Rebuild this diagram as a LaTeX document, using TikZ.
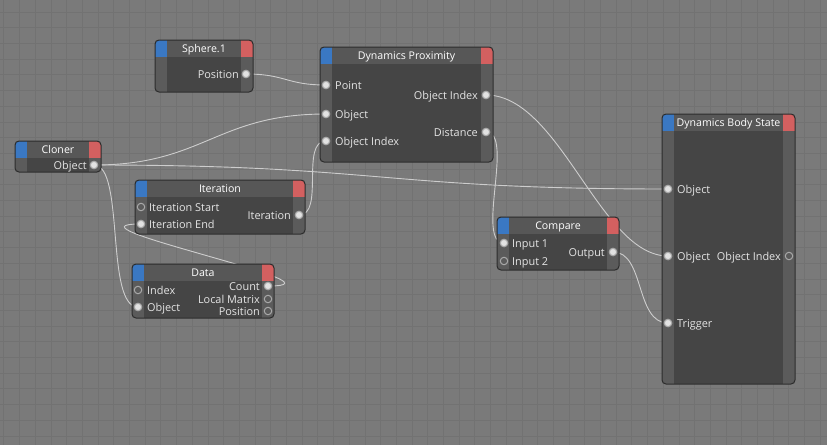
\documentclass[tikz,border=0pt]{standalone}
\usepackage{fontspec}
\setmainfont{Open Sans}
\definecolor{bgc}{HTML}{7A7A7A}
\definecolor{gridc}{HTML}{727272}
\definecolor{bodyc}{HTML}{454545}
\definecolor{stripc}{HTML}{5B5B5B}
\definecolor{headc}{HTML}{575757}
\definecolor{framec}{HTML}{2C2C2C}
\definecolor{tabblue}{HTML}{3A78C3}
\definecolor{tabred}{HTML}{D36060}
\definecolor{wirec}{HTML}{CDCDCD}
\definecolor{txtc}{HTML}{E4E4E4}
\definecolor{portfill}{HTML}{E2E2E2}
\definecolor{portring}{HTML}{A9A9A9}
\pgfdeclarelayer{bg}
\pgfdeclarelayer{wires}
\pgfsetlayers{bg,wires,main}
\tikzset{
  portfull/.style={circle, inner sep=0pt, minimum size=7.5pt, draw=portring, fill=portfill, line width=1.1pt},
  portempty/.style={circle, inner sep=0pt, minimum size=7.5pt, draw=portring, fill=stripc, line width=1pt},
  portlab/.style={text=txtc, font=\fontsize{10.9}{12}\selectfont, inner sep=0pt, text height=8.8pt, text depth=0pt},
  titlelab/.style={text=white, font=\fontsize{10.6}{12}\selectfont, inner sep=0pt, text height=8.6pt, text depth=0pt},
  wire/.style={draw=wirec, line width=0.9pt},
}
\newcommand\gnode[6]{%
  \begin{scope}
    \clip[rounded corners=4pt] (#2,#3) rectangle (#4,#5);
    \fill[bodyc] (#2,#3) rectangle (#4,#5);
    \fill[stripc] (#2,#3) rectangle (#2+12,#5);
    \fill[stripc] (#4-12,#3) rectangle (#4,#5);
    \fill[headc] (#2,#3) rectangle (#4,#3+17);
    \fill[tabblue] (#2,#3) rectangle (#2+12,#3+17);
    \fill[tabred] (#4-12,#3) rectangle (#4,#3+17);
  \end{scope}
  \draw[framec, line width=1pt, rounded corners=4pt] (#2,#3) rectangle (#4,#5);
  \node[titlelab] (#1) at ({(#2+#4)/2},#3+8.5) {#6};
}
\begin{document}
\begin{tikzpicture}[x=1pt, y=-1pt]
\useasboundingbox (0,0) rectangle (827,445);
\begin{pgfonlayer}{bg}
  \fill[bgc] (0,0) rectangle (827,445);
  \foreach \i in {0,...,53} \draw[gridc, line width=0.7pt] (3.8+\i*15.7,0) -- (3.8+\i*15.7,445);
  \foreach \j in {0,...,29} \draw[gridc, line width=0.7pt] (0,12+\j*15.7) -- (827,12+\j*15.7);
\end{pgfonlayer}

% Sphere.1
\gnode{sphere}{155}{40}{253}{92}{Sphere.1}
\node[portfull] (sph-pos) at (246,74) {};
\node[portlab, anchor=east] at (239,74) {Position};

% Dynamics Proximity
\gnode{prox}{320}{47}{493}{162}{Dynamics Proximity}
\node[portfull] (dp-point) at (326,85) {};
\node[portlab, anchor=west] at (335,85) {Point};
\node[portfull] (dp-obj) at (326,114) {};
\node[portlab, anchor=west] at (335,114) {Object};
\node[portfull] (dp-oidx) at (326,141) {};
\node[portlab, anchor=west] at (335,141) {Object Index};
\node[portfull] (dp-oout) at (486,95) {};
\node[portlab, anchor=east] at (478,95) {Object Index};
\node[portfull] (dp-dist) at (486,132) {};
\node[portlab, anchor=east] at (478,132) {Distance};

% Cloner
\gnode{cloner}{15}{141}{101}{172}{Cloner}
\node[portfull] (cl-obj) at (94,165) {};
\node[portlab, anchor=east] at (87,165) {Object};

% Iteration
\gnode{iter}{135}{180}{305}{234}{Iteration}
\node[portempty] (it-start) at (141,207) {};
\node[portlab, anchor=west] at (149,207) {Iteration Start};
\node[portfull] (it-end) at (141,224) {};
\node[portlab, anchor=west] at (149,224) {Iteration End};
\node[portfull] (it-out) at (299,215) {};
\node[portlab, anchor=east] at (291,215) {Iteration};

% Data
\gnode{data}{132}{264}{274}{318}{Data}
\node[portempty] (da-idx) at (138,290) {};
\node[portlab, anchor=west] at (147,290) {Index};
\node[portfull] (da-obj) at (138,307) {};
\node[portlab, anchor=west] at (147,307) {Object};
\node[portfull] (da-count) at (268,286) {};
\node[portlab, anchor=east] at (260,286) {Count};
\node[portempty] (da-lm) at (268,299) {};
\node[portlab, anchor=east] at (260,299) {Local Matrix};
\node[portempty] (da-pos) at (268,311) {};
\node[portlab, anchor=east] at (260,311) {Position};

% Compare
\gnode{cmp}{497}{217}{619}{270}{Compare}
\node[portfull] (cmp-in1) at (504,243) {};
\node[portlab, anchor=west] at (512,243) {Input 1};
\node[portempty] (cmp-in2) at (504,261) {};
\node[portlab, anchor=west] at (512,261) {Input 2};
\node[portfull] (cmp-out) at (613,252) {};
\node[portlab, anchor=east] at (605,252) {Output};

% Dynamics Body State
\gnode{dbs}{662}{114}{795}{384}{Dynamics Body State}
\node[portfull] (dbs-obj1) at (668,189) {};
\node[portlab, anchor=west] at (677,189) {Object};
\node[portfull] (dbs-obj2) at (668,256) {};
\node[portlab, anchor=west] at (677,256) {Object};
\node[portfull] (dbs-trig) at (668,323) {};
\node[portlab, anchor=west] at (677,323) {Trigger};
\node[portempty] (dbs-oidx) at (789,256) {};
\node[portlab, anchor=east] at (781,256) {Object Index};

% wires
\begin{pgfonlayer}{wires}
  \draw[wire] (sph-pos.center) .. controls +(40,0) and +(-40,0) .. (dp-point.center);
  \draw[wire] (cl-obj.center) .. controls +(110,0) and +(-110,0) .. (dp-obj.center);
  \draw[wire] (cl-obj.center) .. controls +(287,0) and +(-287,0) .. (dbs-obj1.center);
  \draw[wire] (cl-obj.center) .. controls +(31,0) and +(-33,0) .. (da-obj.center);
  \draw[wire] (dp-oout.center) .. controls +(74,0) and +(-68,0) .. (dbs-obj2.center);
  \draw[wire] (dp-dist.center) .. controls +(29,0) and +(-29,0) .. (cmp-in1.center);
  \draw[wire] (it-out.center) .. controls +(26,0) and +(-26,0) .. (dp-oidx.center);
  \draw[wire] (cmp-out.center) .. controls +(32,0) and +(-33,0) .. (dbs-trig.center);
  \draw[wire] (da-count.center) .. controls +(90,0) and +(-90,0) .. (it-end.center);
\end{pgfonlayer}
\end{tikzpicture}
\end{document}
